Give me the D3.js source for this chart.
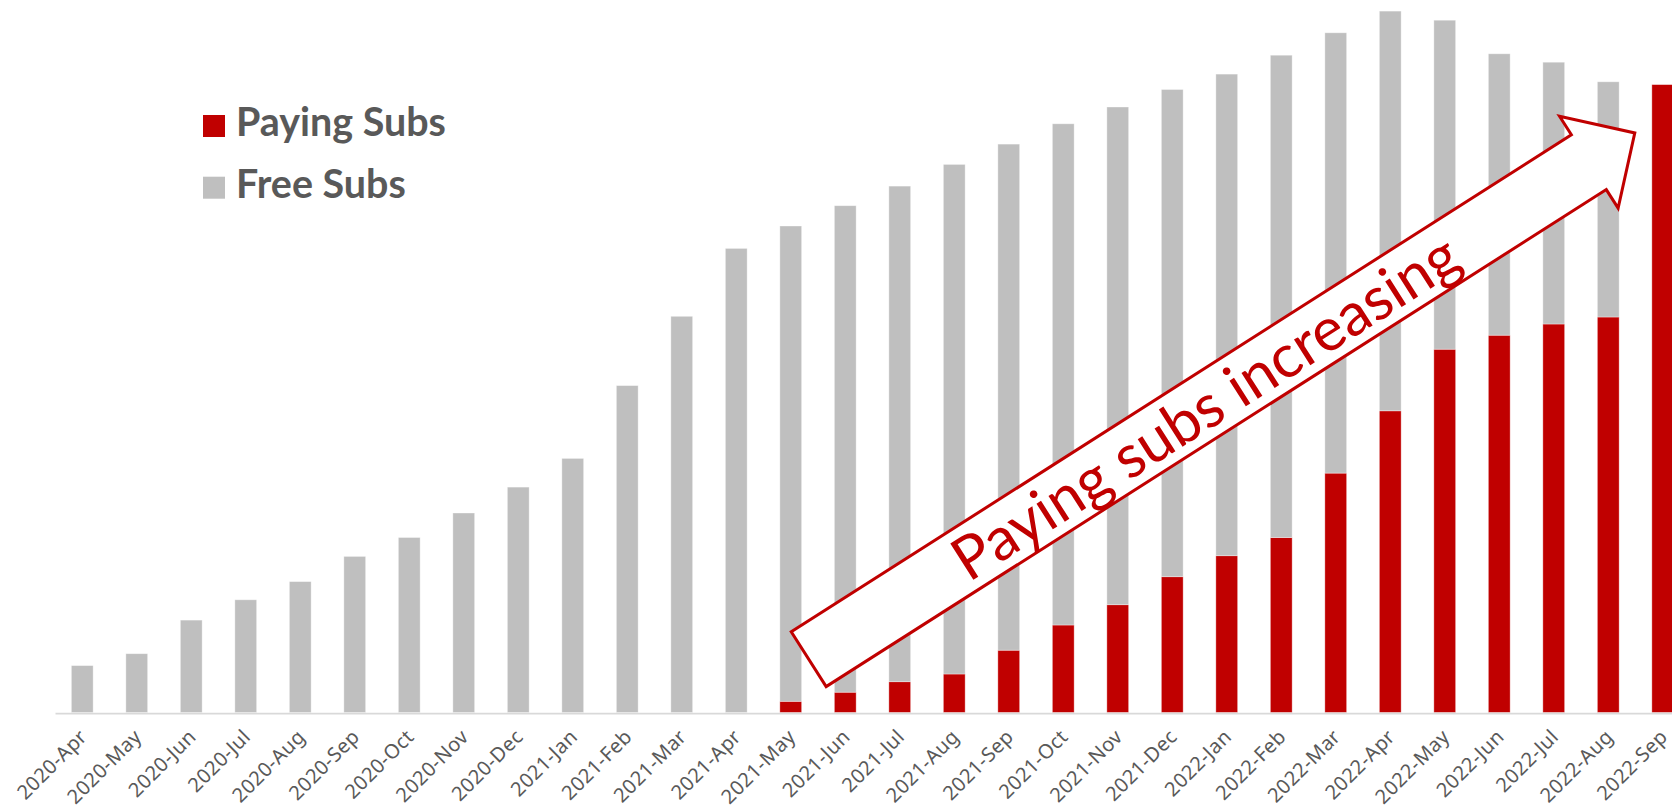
<!DOCTYPE html>
<html>
<head>
<meta charset="utf-8">
<script src="https://cdn.jsdelivr.net/npm/d3@7"></script>
<style>
  html, body { margin: 0; padding: 0; background: #fff; }
  svg { display: block; }
</style>
</head>
<body>
<svg id="chart" width="1672" height="810"></svg>
<script>
// Monthly subscriber counts (thousands)
const months = [
  "2020-Apr","2020-May","2020-Jun","2020-Jul","2020-Aug","2020-Sep","2020-Oct","2020-Nov","2020-Dec",
  "2021-Jan","2021-Feb","2021-Mar","2021-Apr","2021-May","2021-Jun","2021-Jul","2021-Aug","2021-Sep",
  "2021-Oct","2021-Nov","2021-Dec","2022-Jan","2022-Feb","2022-Mar","2022-Apr","2022-May","2022-Jun",
  "2022-Jul","2022-Aug","2022-Sep"
];
const payingSubs = [
  0, 0, 0, 0, 0, 0, 0, 0, 0,
  0, 0, 0, 0, 16, 29, 44, 55, 89,
  125, 154, 194, 224, 250, 342, 431, 519, 539,
  555, 565, 897
];
const freeSubs = [
  67, 84, 132, 161, 187, 223, 250, 285, 322,
  363, 467, 566, 663, 679, 695, 708, 728, 723,
  716, 711, 696, 688, 689, 629, 571, 470, 402,
  374, 336, 0
];
const seriesNames = ["Paying Subs", "Free Subs"];
const seriesColors = ["#C00000", "#BFBFBF"];
const calloutText = "Paying subs increasing";

const svg = d3.select("#chart");

const baseY = 712.5;
const x = d3.scaleBand()
  .domain(months)
  .range([55, 1690])
  .paddingInner(0.6)
  .paddingOuter(0.3);
const y = d3.scaleLinear().domain([0, 1000]).range([baseY, 12.5]);

// stacked rows: paying at the bottom, free on top
const rows = months.map((m, i) => ({ month: m, paying: payingSubs[i], free: freeSubs[i] }));
const stack = d3.stack().keys(["paying", "free"]);
const layers = stack(rows);

const barsG = svg.append("g");
barsG.selectAll("g.layer")
  .data(layers)
  .join("g")
  .attr("class", "layer")
  .attr("fill", (d, i) => seriesColors[i])
  .selectAll("rect")
  .data(d => d.filter(s => s[1] - s[0] > 0))
  .join("rect")
  .attr("x", d => x(d.data.month))
  .attr("width", x.bandwidth())
  .attr("y", d => y(d[1]))
  .attr("height", d => y(d[0]) - y(d[1]))
  .attr("stroke", "#fff")
  .attr("stroke-width", 0.8)
  .attr("stroke-opacity", 0.45);

// category axis with diagonal month labels
const xAxis = d3.axisBottom(x).tickSize(0).tickPadding(0);
const axisG = svg.append("g")
  .attr("transform", `translate(0,${baseY + 0.5})`)
  .call(xAxis);
axisG.select(".domain")
  .attr("stroke", "#D9D9D9")
  .attr("stroke-width", 1.75);
axisG.selectAll(".tick text")
  .attr("fill", "#595959")
  .style("font-family", "'Noto Sans', 'Open Sans', sans-serif")
  .style("font-size", "20px")
  .style("letter-spacing", "0.4px")
  .attr("text-anchor", "end")
  .attr("y", 0)
  .attr("dy", 0)
  .attr("transform", "translate(6,25) rotate(-45)");

// legend
const legend = svg.append("g").attr("transform", "translate(203,0)");
const legendRows = [
  { name: seriesNames[0], color: seriesColors[0], top: 115 },
  { name: seriesNames[1], color: seriesColors[1], top: 176.7 }
];
legendRows.forEach(r => {
  legend.append("rect")
    .attr("x", 0).attr("y", r.top)
    .attr("width", 22).attr("height", 22)
    .attr("fill", r.color);
  legend.append("text")
    .attr("x", 33)
    .attr("y", r.top + 21)
    .attr("fill", "#595959")
    .style("font-family", "Lato, 'Noto Sans', sans-serif")
    .style("font-weight", "bold")
    .style("font-size", "33px")
    .text(r.name);
});
// size legend text so "Paying Subs" spans its column
{
  const t = legend.selectAll("text").nodes();
  const w = t[0].getComputedTextLength();
  const fs = 33 * 210 / w;
  legend.selectAll("text").style("font-size", fs + "px");
}

// callout arrow
const arrow = {
  x0: 808.7, y0: 659.2,   // tail midpoint
  angle: -32.5,
  shaftLen: 925, tipLen: 979.5,
  halfShaft: 32.5, halfHead: 54.5
};
const arrowPts = [
  [0, -arrow.halfShaft],
  [arrow.shaftLen, -arrow.halfShaft],
  [arrow.shaftLen, -arrow.halfHead],
  [arrow.tipLen, 0],
  [arrow.shaftLen, arrow.halfHead],
  [arrow.shaftLen, arrow.halfShaft],
  [0, arrow.halfShaft]
];
const callout = svg.append("g")
  .attr("transform", `translate(${arrow.x0},${arrow.y0}) rotate(${arrow.angle})`);
callout.append("path")
  .attr("d", d3.line()(arrowPts) + "Z")
  .attr("fill", "#fff")
  .attr("stroke", "#C00000")
  .attr("stroke-width", 3)
  .attr("stroke-linejoin", "miter");
const ct = callout.append("text")
  .attr("x", 470)
  .attr("y", 0)
  .attr("dy", "0.36em")
  .attr("text-anchor", "middle")
  .attr("fill", "#C00000")
  .style("font-family", "Lato, 'Open Sans', sans-serif")
  .style("font-size", "50px")
  .text(calloutText);
{
  const w = ct.node().getComputedTextLength();
  ct.style("font-size", (50 * 588 / w) + "px");
}
</script>
</body>
</html>
